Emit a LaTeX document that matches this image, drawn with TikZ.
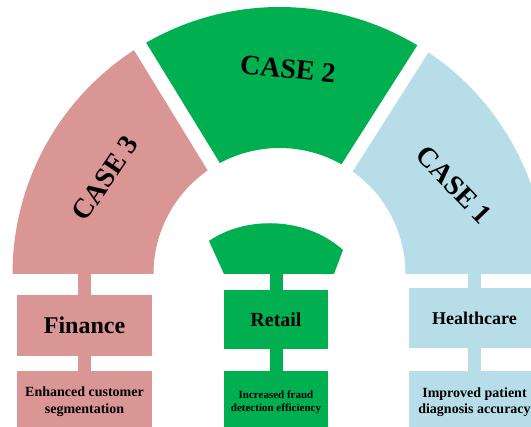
\documentclass[tikz,border=0pt]{standalone}
\usepackage{fontspec}
\setmainfont{Liberation Serif}
\definecolor{caseone}{HTML}{B7DEE8}
\definecolor{casetwo}{HTML}{00B050}
\definecolor{casethree}{HTML}{D99694}
\tikzset{
  casetitle/.style={font=\fontsize{28}{28}\selectfont\bfseries},
  field/.style={inner sep=0pt},
  stem/.style={line width=13pt},
}
\begin{document}
\begin{tikzpicture}[x=1pt, y=1pt, every node/.style={transform shape}]
                \useasboundingbox (0,0) rectangle (531,427);
                \clip (0,0) rectangle (531,427);

                % Arch (three segments)
                \begin{scope}[shift={(279.5,153)}]
                    \fill[casethree] (180:267) arc[start angle=180, end angle=121.5, radius=267] -- (121.5:126) arc[start angle=121.5, end angle=180, radius=126] -- cycle;
                    \fill[casetwo] (121.5:267) arc[start angle=121.5, end angle=57.5, radius=267] -- (57.5:126) arc[start angle=57.5, end angle=121.5, radius=126] -- cycle;
                    \fill[caseone] (57.5:267) arc[start angle=57.5, end angle=0, radius=267] -- (0:126) arc[start angle=0, end angle=57.5, radius=126] -- cycle;
                    \draw[white, line width=14pt] (121.5:110) -- (121.5:290); % gap 3|2
                    \draw[white, line width=13pt] (57.5:110) -- (57.5:290); % gap 2|1
                \end{scope}
                \coordinate (base) at (0,153);

                % Small cap in the middle
                \fill[casetwo] (224,153) -- (209,186) .. controls (245,211) and (305,211) .. (343,177) -- (334,153) -- cycle;

                % Case titles
                \node[casetitle, rotate=56] (case3) at (105,249) {CASE 3};
                \node[casetitle, rotate=-6] (case2) at (288,358) {CASE 2};
                \node[casetitle, rotate=-46] (case1) at (454,242) {CASE 1};

                % Fields
                \node[field, fill=casethree, minimum width=135pt, minimum height=61pt, font=\fontsize{24}{24}\selectfont\bfseries] (finance) at (84.5,101.5) {Finance};
                \node[field, fill=casetwo, minimum width=104pt, minimum height=59pt, font=\fontsize{20}{20}\selectfont\bfseries] (retail) at (276,107.5) {Retail};
                \node[field, fill=caseone, minimum width=131pt, minimum height=60pt, font=\fontsize{18}{18}\selectfont\bfseries] (healthcare) at (474.5,109) {Healthcare};

                % Outcomes (run off the bottom edge)
                \node[field, fill=casethree, minimum width=135pt, minimum height=62pt, align=center, font=\fontsize{14}{17}\selectfont\bfseries] (finance-out) at (84.5,25) {Enhanced customer\\segmentation};
                \node[field, fill=casetwo, minimum width=104pt, minimum height=62pt, align=center, font=\fontsize{11}{13}\selectfont\bfseries] (retail-out) at (276,25) {Increased fraud\\detection efficiency};
                \node[field, fill=caseone, minimum width=131pt, minimum height=62pt, align=center, font=\fontsize{14}{16}\selectfont\bfseries] (healthcare-out) at (474.5,25) {Improved patient\\diagnosis accuracy};

                % Stems
                \draw[stem, casethree] (finance.north |- base) -- (finance.north);
                \draw[stem, casethree] (finance.south) -- (finance-out.north);
                \draw[stem, casetwo] (retail.north |- base) -- (retail.north);
                \draw[stem, casetwo] (retail.south) -- (retail-out.north);
                \draw[stem, caseone] (healthcare.north |- base) -- (healthcare.north);
                \draw[stem, caseone] (healthcare.south) -- (healthcare-out.north);
            \end{tikzpicture}
\end{document}
